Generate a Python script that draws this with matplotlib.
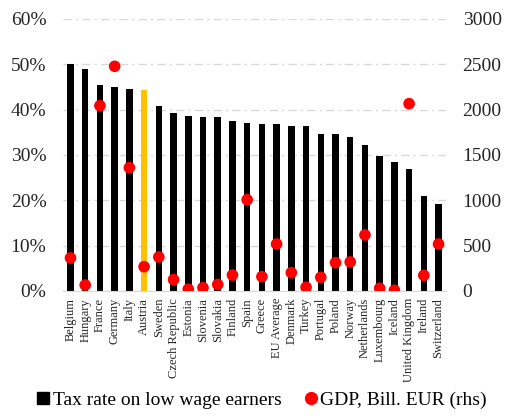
import numpy as np
import matplotlib.pyplot as plt
from matplotlib.lines import Line2D

countries = ['Belgium', 'Hungary', 'France', 'Germany', 'Italy', 'Austria', 'Sweden',
             'Czech Republic', 'Estonia', 'Slovenia', 'Slovakia', 'Finland', 'Spain',
             'Greece', 'EU Average', 'Denmark', 'Turkey', 'Portugal', 'Poland', 'Norway',
             'Netherlands', 'Luxembourg', 'Iceland', 'United Kingdom', 'Ireland',
             'Switzerland']
tax_rate = [50.0, 48.9, 45.4, 45.0, 44.6, 44.3, 40.7, 39.2, 38.6, 38.4, 38.3, 37.4,
            37.1, 36.8, 36.8, 36.5, 36.4, 34.6, 34.6, 34.0, 32.1, 29.8, 28.5, 26.8,
            21.0, 19.1]
gdp = [364, 66, 2044, 2478, 1360, 268, 375, 125, 20, 36, 72, 176, 1007, 158, 518,
       202, 41, 151, 312, 320, 618, 30, 8, 2066, 173, 518]
highlight = 'Austria'

plt.rcParams['font.family'] = ['Liberation Serif', 'DejaVu Serif']

fig = plt.figure(figsize=(5.05, 4.19), dpi=100)
ax = fig.add_axes([0.125, 0.3055, 0.758, 0.6492])
x = np.arange(len(countries))
colors = ['#ffc000' if c == highlight else 'black' for c in countries]
ax.bar(x, tax_rate, width=0.44, color=colors, zorder=2)
ax.set_ylim(0, 60)
ax.set_yticks(range(0, 61, 10))
ax.set_yticklabels([f'{v}%' for v in range(0, 61, 10)], fontsize=14)
ax.set_xlim(-0.5, len(countries) - 0.5)
ax.set_xticks(x)
ax.set_xticklabels(countries, rotation=90, fontsize=9)
ax.grid(axis='y', color='#d9d9d9', linestyle=(0, (6, 3, 1.5, 3)), linewidth=1, zorder=0)
for s in ['top', 'left', 'right']:
    ax.spines[s].set_visible(False)
ax.spines['bottom'].set_color('#d9d9d9')
ax.tick_params(axis='y', length=0, pad=12, colors='#262626')
ax.tick_params(axis='x', length=0, pad=5, colors='#262626')

ax2 = ax.twinx()
ax2.scatter(x, gdp, s=70, color='#ff0000', zorder=3, edgecolors='none')
ax2.set_ylim(0, 3000)
ax2.set_yticks(range(0, 3001, 500))
ax2.tick_params(length=0, pad=12, labelsize=14, colors='#262626')
for s in ['top', 'left', 'right', 'bottom']:
    ax2.spines[s].set_visible(False)

handles = [Line2D([], [], marker='s', color='black', linestyle='none', markersize=8.5),
           Line2D([], [], marker='o', color='#ff0000', linestyle='none', markersize=8.5)]
fig.legend(handles, ['Tax rate on low wage earners', 'GDP, Bill. EUR (rhs)'],
           loc='center', bbox_to_anchor=(0.515, 0.045), ncol=2, frameon=False,
           fontsize=14, handletextpad=0.0, columnspacing=1.0, handlelength=1.0)

fig.savefig('out.png', dpi=100)
